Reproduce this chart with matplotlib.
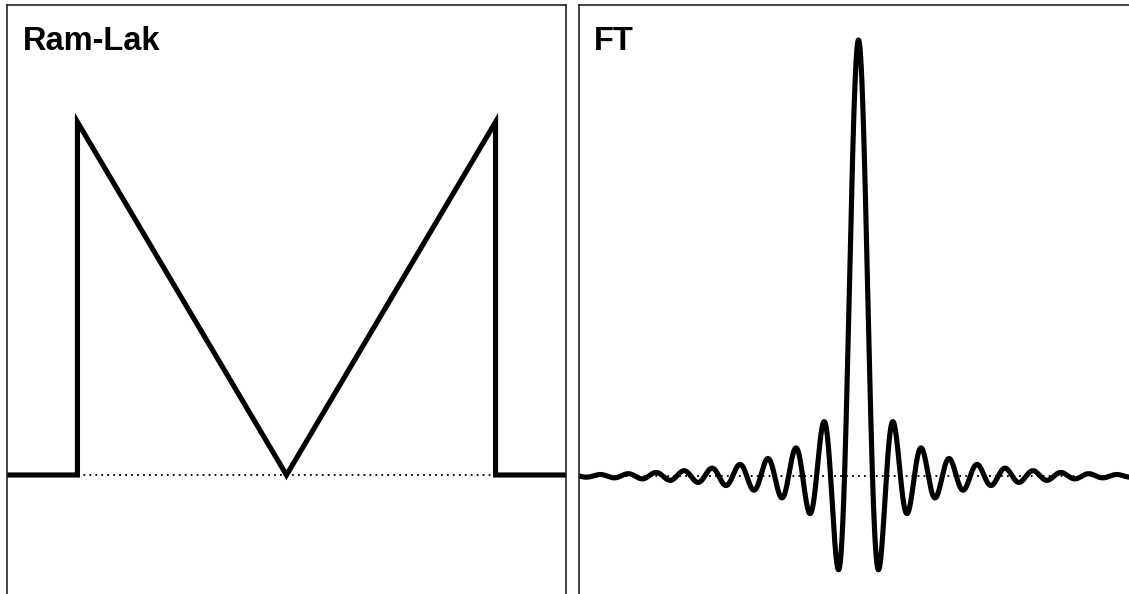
import numpy as np
import matplotlib
matplotlib.use("Agg")
import matplotlib.pyplot as plt

# ---- data ----
# Ram-Lak filter (|f| up to the cutoff, zero outside)
ramlak_f = [-1.34, -1.0, -1.0, 0.0, 1.0, 1.0, 1.34]
ramlak_h = [0.0, 0.0, 1.0, 0.0, 1.0, 0.0, 0.0]
# Its transform: a sinc-like curve with a smooth taper
ft_t = np.linspace(-20.5, 20.5, 6001)
ft_taper_width = 14.5
ft_h = np.sinc(ft_t) * np.exp(-(ft_t / ft_taper_width) ** 2)
titles = ["Ram-Lak", "FT"]

W, H = 1129, 594
fig = plt.figure(figsize=(W / 100, H / 100), dpi=100)

def px_axes(x0, top, w, bottom):
    return fig.add_axes([x0 / W, 1 - bottom / H, w / W, (bottom - top) / H])

spine_color = "#222222"
lw_main = 3.7
dot_style = (0, (1, 2.3))

# left panel
ax1 = px_axes(7, 5, 559, 594)
ax1.plot([-1.34, 1.34], [0, 0], color="black", lw=1.3, ls=dot_style, zorder=1)
ax1.plot(ramlak_f, ramlak_h, color="black", lw=lw_main, solid_joinstyle="miter",
         solid_capstyle="butt", zorder=2)
ax1.set_xlim(-1.337, 1.337)
ax1.set_ylim(-(594 - 475) / 353, 1 + (122 - 5) / 353)

# right panel (extends past the right edge of the figure)
ax2 = px_axes(579, 5, 559, 594)
ax2.plot([-20.5, 20.5], [0, 0], color="black", lw=1.3, ls=dot_style, zorder=1)
ax2.plot(ft_t, ft_h, color="black", lw=lw_main, solid_capstyle="round", zorder=2)
ax2.set_xlim(-20.0, 20.0)
ax2.set_ylim(-(594 - 476) / 436, 1 + (40 - 5) / 436)

for ax in (ax1, ax2):
    ax.set_xticks([])
    ax.set_yticks([])
    ax.spines["bottom"].set_visible(False)
    for s in ("left", "right", "top"):
        ax.spines[s].set_color(spine_color)
        ax.spines[s].set_linewidth(1.2)
    ax.patch.set_alpha(0)

fig.text(23 / W, 1 - 50 / H, titles[0], fontsize=23.5, fontweight="bold",
         family="Liberation Sans", va="baseline", ha="left")
fig.text(594 / W, 1 - 50 / H, titles[1], fontsize=23.5, fontweight="bold",
         family="Liberation Sans", va="baseline", ha="left")

fig.savefig("out.png", dpi=100)
